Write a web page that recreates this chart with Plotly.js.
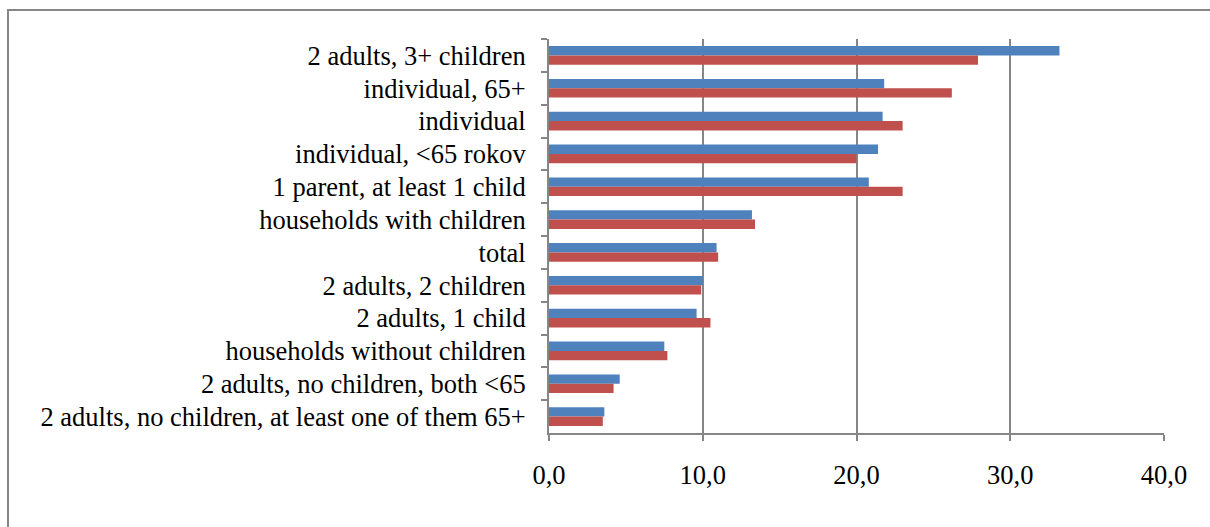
<!DOCTYPE html>
<html>
<head>
<meta charset="utf-8">
<script src="https://cdn.plot.ly/plotly-3.0.1.min.js"></script>
<style>
  html, body { margin: 0; padding: 0; background: #fff; }
  #wrap { position: relative; width: 1210px; height: 527px; overflow: hidden; }
  #chart { width: 1210px; height: 527px; }
  #frame { position: absolute; left: 7px; top: 9px; width: 1300px; height: 600px;
           border-left: 2px solid #868686; border-top: 2px solid #868686; pointer-events: none; }
</style>
</head>
<body>
<div id="wrap">
  <div id="chart"></div>
  <div id="frame"></div>
</div>
<script>
const categories = [
  "2 adults, 3+ children",
  "individual, 65+",
  "individual",
  "individual, <65 rokov",
  "1 parent, at least 1 child",
  "households with children",
  "total",
  "2 adults, 2 children",
  "2 adults, 1 child",
  "households without children",
  "2 adults, no children, both <65",
  "2 adults, no children, at least one of them 65+"
];
const seriesBlue = [33.2, 21.8, 21.7, 21.4, 20.8, 13.2, 10.9, 10.0, 9.6, 7.5, 4.6, 3.6];
const seriesRed  = [27.9, 26.2, 23.0, 20.0, 23.0, 13.4, 11.0, 9.9, 10.5, 7.7, 4.2, 3.5];
const xTicks = [0, 10, 20, 30, 40];

const font = { family: "Liberation Serif", size: 26.5, color: "#000" };

const traces = [
  { type: "bar", orientation: "h", y: categories, x: seriesBlue, name: "A",
    marker: { color: "#4F81BD", line: { width: 0 } }, hoverinfo: "x+y" },
  { type: "bar", orientation: "h", y: categories, x: seriesRed, name: "B",
    marker: { color: "#C0504D", line: { width: 0 } }, hoverinfo: "x+y" }
];

const layout = {
  width: 1210, height: 527,
  margin: { l: 549, r: 46, t: 39, b: 94, pad: 0 },
  paper_bgcolor: "#fff", plot_bgcolor: "#fff",
  showlegend: false,
  barmode: "group",
  bargap: 0.43, bargroupgap: 0,
  separators: ", ",
  font: font,
  xaxis: {
    range: [0, 40], tickvals: xTicks, tickformat: ".1f",
    showgrid: true, gridcolor: "#868686", gridwidth: 2,
    showline: true, linecolor: "#868686", linewidth: 2,
    ticks: "outside", ticklen: 6, tickcolor: "#868686", tickwidth: 2,
    ticklabelstandoff: 11,
    zeroline: false, tickfont: font, fixedrange: true
  },
  yaxis: {
    type: "category", autorange: "reversed",
    showline: true, linecolor: "#868686", linewidth: 2,
    ticks: "outside", ticklen: 6, tickcolor: "#868686", tickwidth: 2,
    tickson: "boundaries",
    ticklabelstandoff: 16,
    showgrid: false, zeroline: false, tickfont: font, fixedrange: true
  }
};

Plotly.newPlot("chart", traces, layout, { displayModeBar: false, staticPlot: true });
</script>
</body>
</html>
